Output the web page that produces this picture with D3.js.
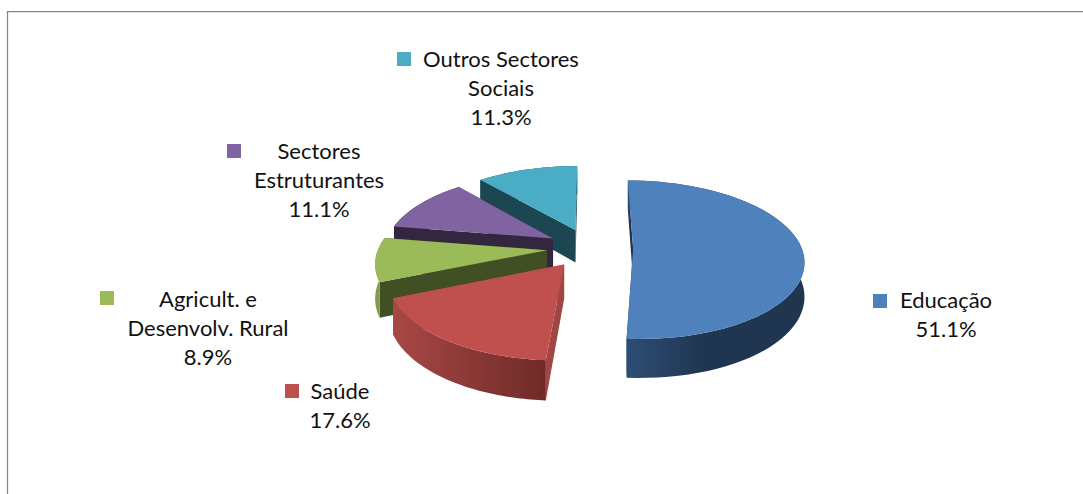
<!DOCTYPE html>
<html lang="en">
<head>
    <meta charset="UTF-8">
    <title>Pie chart</title>
    <script src="https://d3js.org/d3.v7.min.js"></script>
    <style>
        html, body { margin: 0; padding: 0; background: #fff; }
        svg { display: block; }
        text { font-family: Lato, "Open Sans", sans-serif; font-size: 22px; fill: #111; }
    </style>
</head>
<body>
    <div id="chart"></div>
    <script>
        // chart data
        const categories = ["Educação", "Saúde", "Agricult. e Desenvolv. Rural", "Sectores Estruturantes", "Outros Sectores Sociais"];
        const values = [51.1, 17.6, 8.9, 11.1, 11.3];
        const labelLines = [["Educação"], ["Saúde"], ["Agricult. e", "Desenvolv. Rural"], ["Sectores", "Estruturantes"], ["Outros Sectores", "Sociais"]];
        const percentLabels = ["51.1%", "17.6%", "8.9%", "11.1%", "11.3%"];

        const topColors = ["#4f81bd", "#c0504d", "#9bbb59", "#8064a2", "#4bacc6"];
        const radialColors = ["#1f3550", "#a04643", "#414f24", "#33263f", "#1d4653"];
        const wallFrom = ["#2e4d74", "#a84845", "#7f9a48", "#33263f", "#1d4653"];
        const wallTo = ["#1f3550", "#6e2a28", "#7f9a48", "#33263f", "#1d4653"];

        const width = 1083, height = 494;
        const svg = d3.select("#chart").append("svg")
            .attr("width", width)
            .attr("height", height);

        // frame, open at the bottom and right
        svg.append("path")
            .attr("d", `M7.5,${height}V11.5H${width}`)
            .attr("fill", "none")
            .attr("stroke", "#868686")
            .attr("stroke-width", 1.25);

        // projection of the tilted pie: disk coords -> screen
        const cx = 590, cy = 248, rx = 168.5, ry = 77.5, persp = 0.139, depth = 33.5, explode = 0.256;
        function project(u, v, z) {
            const s = 1 / (1 - persp * v);
            return [cx + rx * u * s, cy + ry * v * s + depth * z * s];
        }

        const pie = d3.pie().sort(null).value(d => d);
        const arcs = pie(values);
        const line = d3.line();
        const defs = svg.append("defs");

        function slicePoints(d) {
            const mid = (d.startAngle + d.endAngle) / 2;
            const ou = explode * Math.sin(mid), ov = -explode * Math.cos(mid);
            const steps = d3.range(0, 61).map(i => d.startAngle + (d.endAngle - d.startAngle) * i / 60);
            return {
                apex: z => project(ou, ov, z),
                rim: z => steps.map(a => project(ou + Math.sin(a), ov - Math.cos(a), z))
            };
        }

        // back slices first, blue goes last
        const order = [4, 3, 2, 1, 0];
        order.forEach(i => {
            const p = slicePoints(arcs[i]);
            const rimTop = p.rim(0), rimBottom = p.rim(1);
            const g = svg.append("g").attr("class", "slice");

            const grad = defs.append("linearGradient").attr("id", "wall" + i);
            grad.append("stop").attr("offset", "0%").attr("stop-color", wallFrom[i]);
            grad.append("stop").attr("offset", i === 0 ? "45%" : "100%").attr("stop-color", wallTo[i]);

            // the two cut walls, under the outer wall
            [rimTop[0], rimTop[rimTop.length - 1]].forEach((pt, k) => {
                const ptLow = k === 0 ? rimBottom[0] : rimBottom[rimBottom.length - 1];
                g.append("path")
                    .attr("d", line([p.apex(0), pt, ptLow, p.apex(1)]) + "Z")
                    .attr("fill", radialColors[i]);
            });

            // outer wall
            g.append("path")
                .attr("d", line(rimTop.concat(rimBottom.slice().reverse())) + "Z")
                .attr("fill", `url(#wall${i})`);

            // top face
            g.append("path")
                .attr("d", line([p.apex(0)].concat(rimTop)) + "Z")
                .attr("fill", topColors[i]);
        });

        // labels, anchor is the centre of the text block
        const labelPos = [[946, 301], [340, 392], [208, 300], [319, 152], [501, 60]];
        const keyPos = [[873, 294], [285, 384], [100, 291], [227, 144], [397, 52]];
        const lineStep = 29;

        categories.forEach((name, i) => {
            svg.append("rect")
                .attr("x", keyPos[i][0])
                .attr("y", keyPos[i][1])
                .attr("width", 14)
                .attr("height", 14)
                .attr("fill", topColors[i]);

            const rows = labelLines[i].concat(percentLabels[i]);
            const t = svg.append("text")
                .attr("text-anchor", "middle");
            rows.forEach((row, r) => {
                t.append("tspan")
                    .attr("x", labelPos[i][0])
                    .attr("y", labelPos[i][1] + 7 + r * lineStep)
                    .text(row);
            });
        });
    </script>
</body>
</html>
